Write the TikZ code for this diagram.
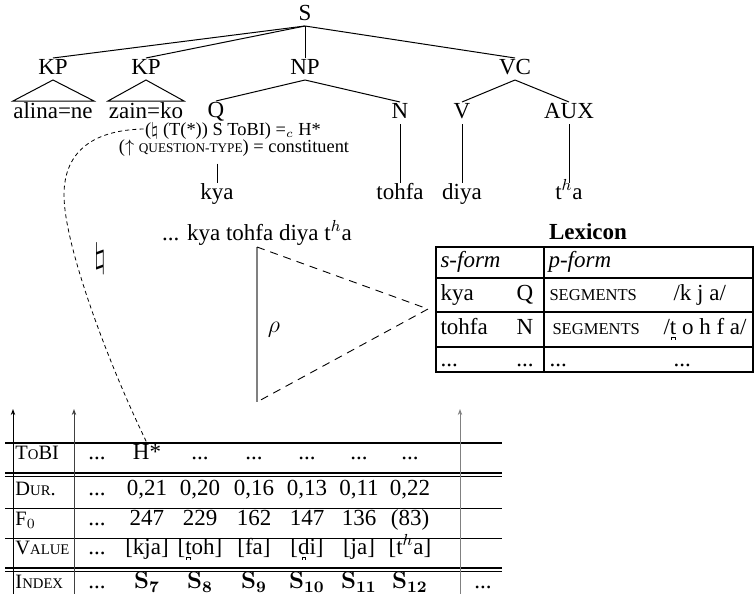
\documentclass[tikz,border=0pt]{standalone}
\usepackage[no-math]{fontspec}
\setmainfont{Liberation Serif}
\usetikzlibrary{arrows.meta}

% small capitals by scaling, the serif font has none
\newcommand\fakesc[1]{\scalebox{0.72}{\MakeUppercase{#1}}}
% dental bridge under a letter
\newcommand\dental[1]{{\setbox0\hbox{#1}\rlap{\hbox to\wd0{\hss\raisebox{-2.5pt}{\rule{0.3pt}{1.2pt}\rule[0.9pt]{1.5pt}{0.3pt}\rule{0.3pt}{1.2pt}}\hss}}\box0}}

\begin{document}
\begin{tikzpicture}[x=0.5pt,y=0.5pt,yscale=-1,xscale=1,
  font=\fontsize{11.5}{13}\selectfont, line width=0.5pt,
  tree/.style={inner sep=0.5pt, text height=7.5pt, text depth=2pt},
  cell/.style={inner sep=0.5pt, text height=7.5pt, text depth=2pt},
  lcell/.style={cell, anchor=west},
  rowlabel/.style={lcell, font=\fontsize{10.2}{12}\selectfont},
  ann/.style={inner sep=0.5pt, font=\fontsize{9.2}{10}\selectfont},
  linkdash/.style={dash pattern=on 2pt off 1.6pt, line width=0.4pt},
  rhodash/.style={dash pattern=on 4pt off 3pt, line width=0.45pt},
  lexrule/.style={line width=0.8pt},
  thickrule/.style={line width=0.9pt},
  thinrule/.style={line width=0.45pt},
  timeline/.style={-{Stealth[length=3pt,width=2.2pt]}, line width=0.5pt}]
\useasboundingbox (0,0) rectangle (756,594);

% Tree labels
\node [tree] (S) at (305,15) {S};
\node [tree] (kp1) at (53,69) {KP};
\node [tree] (kp2) at (146,69) {KP};
\node [tree] (np) at (305,69) {NP};
\node [tree] (vc) at (515,69) {VC};
\node [tree] (alina) at (53,113) {alina=ne};
\node [tree] (zain) at (146,113) {zain=ko};
\node [tree] (q) at (216,112) {Q};
\node [tree] (n) at (400,113) {N};
\node [tree] (v) at (462,113) {V};
\node [tree] (aux) at (569,113) {AUX};
\node [tree] (kya) at (217,194) {kya};
\node [tree] (tohfa) at (400,194) {tohfa};
\node [tree] (diya) at (462,194) {diya};
\node [tree] (tha) at (569,194) {t$^h$a};

% Annotation under Q
\node [ann, text height=6.5pt, text depth=0.5pt] (ann1) at (233,129) {($\natural$ (T(*)) S ToBI) =$_c$ H*};
\node [ann, text height=5pt, text depth=2.2pt, inner ysep=3pt] (ann2) at (234,150) {($\uparrow$ \fakesc{question-type}) = constituent};

% Tree edges
\draw (S.south) -- (kp1.north);
\draw (S.south) -- (kp2.north);
\draw (S.south) -- (np.north);
\draw (S.south) -- (vc.north);
\draw (np.south) -- (q.north);
\draw (np.south) -- (n.north);
\draw (vc.south) -- (v.north);
\draw (vc.south) -- (aux.north);
\draw (kya.north |- ann2.south) -- (kya.north);
\draw (n.south) -- (tohfa.north);
\draw (v.south) -- (diya.north);
\draw (aux.south) -- (tha.north);
% Triangles
\draw (kp1.south) -- ++(-40,21) -- ++(81,0) -- cycle;
\draw (kp2.south) -- ++(-38,21) -- ++(76,0) -- cycle;

% String and mapping
\node (str) at (257,233) {... kya tohfa diya t$^h$a};
\node (nat) at (100,259) {\fontsize{16}{16}\selectfont$\natural$};
\coordinate (rtop) at (257,247);
\coordinate (rbot) at (257,402);
\coordinate (rtip) at (428,309);
\draw [gray, line width=0.6pt] (rtop) -- (rbot);
\draw [rhodash] (rtop) -- (rtip) -- (rbot);
\node (rho) at (274,330) {$\rho$};

% Lexicon
\node (lexhead) at (588,232) {\textbf{Lexicon}};
\draw [lexrule] (436,247) rectangle (753,372);
\draw [lexrule] (436,278) -- (753,278);
\draw [lexrule] (436,312) -- (753,312);
\draw [lexrule] (436,347) -- (753,347);
\draw [lexrule] (544,247) -- (544,372);
\node [lcell] (sform) at (439,262) {\textit{s-form}};
\node [lcell] (pform) at (547,262) {\textit{p-form}};
\node [lcell] (lkya) at (439,295) {kya};
\node [cell] (lq) at (525,295) {Q};
\node [lcell] (lseg1) at (548,295) {\fakesc{segments}};
\node [lcell] (lkja) at (672,295) {/k j a/};
\node [lcell] (ltohfa) at (439,329) {tohfa};
\node [cell] (ln) at (525,329) {N};
\node [lcell] (lseg2) at (551,329) {\fakesc{segments}};
\node [lcell] (ltoh) at (662,329) {/\dental{t} o h f a/};
\node [lcell] (ld1) at (439,361) {...};
\node [cell] (ld2) at (525,361) {...};
\node [lcell] (ld3) at (548,361) {...};
\node [lcell] (ld4) at (672,361) {...};

% Signal table: rules
\draw [thickrule] (5,443) -- (502,443);
\draw [thickrule] (5,473) -- (502,473);
\draw [thinrule] (5,476.5) -- (502,476.5);
\draw [thinrule] (5,508) -- (502,508);
\draw [thinrule] (5,538) -- (502,538);
\draw [thickrule] (5,568) -- (502,568);
\draw [thinrule] (5,571.5) -- (502,571.5);
% Time lines
\draw [timeline] (13,594) -- (13,409);
\draw [timeline, black!75] (74,594) -- (74,409);
\draw [timeline, gray] (460,594) -- (460,409);

% Row: ToBI
\node [rowlabel] (tobi) at (14,454) {T\fakesc{o}BI};
\node [cell] (tb0) at (97,454) {...};
\node [cell] (tb7) at (147,454) {H*};
\node [cell] (tb8) at (200,454) {...};
\node [cell] (tb9) at (254,454) {...};
\node [cell] (tb10) at (307,454) {...};
\node [cell] (tb11) at (359,454) {...};
\node [cell] (tb12) at (410,454) {...};
% Row: duration
\node [rowlabel] (dur) at (14,490) {D\fakesc{ur}.};
\node [cell] (du0) at (97,490) {...};
\node [cell] (du7) at (147,490) {0,21};
\node [cell] (du8) at (200,490) {0,20};
\node [cell] (du9) at (254,490) {0,16};
\node [cell] (du10) at (307,490) {0,13};
\node [cell] (du11) at (359,490) {0,11};
\node [cell] (du12) at (410,490) {0,22};
% Row: F0
\node [rowlabel] (fzero) at (14,520) {F$_0$};
\node [cell] (fz0) at (97,520) {...};
\node [cell] (fz7) at (147,520) {247};
\node [cell] (fz8) at (200,520) {229};
\node [cell] (fz9) at (254,520) {162};
\node [cell] (fz10) at (307,520) {147};
\node [cell] (fz11) at (359,520) {136};
\node [cell] (fz12) at (410,520) {(83)};
% Row: value
\node [rowlabel] (value) at (14,549) {V\fakesc{alue}};
\node [cell] (va0) at (97,549) {...};
\node [cell] (va7) at (147,549) {[kja]};
\node [cell] (va8) at (200,549) {[\dental{t}oh]};
\node [cell] (va9) at (254,549) {[fa]};
\node [cell] (va10) at (307,549) {[\dental{d}i]};
\node [cell] (va11) at (359,549) {[ja]};
\node [cell] (va12) at (410,549) {[t$^h$a]};
% Row: index
\node [rowlabel] (index) at (14,583) {I\fakesc{ndex}};
\node [cell] (ix0) at (97,583) {...};
\node [cell] (ix7) at (147,583) {$\mathbf{S_{7}}$};
\node [cell] (ix8) at (200,583) {$\mathbf{S_{8}}$};
\node [cell] (ix9) at (254,583) {$\mathbf{S_{9}}$};
\node [cell] (ix10) at (307,583) {$\mathbf{S_{10}}$};
\node [cell] (ix11) at (359,583) {$\mathbf{S_{11}}$};
\node [cell] (ix12) at (410,583) {$\mathbf{S_{12}}$};
\node [cell] (ixn) at (483,583) {...};

% Link from the annotation to the accent
\draw [linkdash] (ann1.west) .. controls (95,130) and (64,150) .. (64,195)
  .. controls (64,245) and (108,363) .. (tb7.north);

\end{tikzpicture}
\end{document}
